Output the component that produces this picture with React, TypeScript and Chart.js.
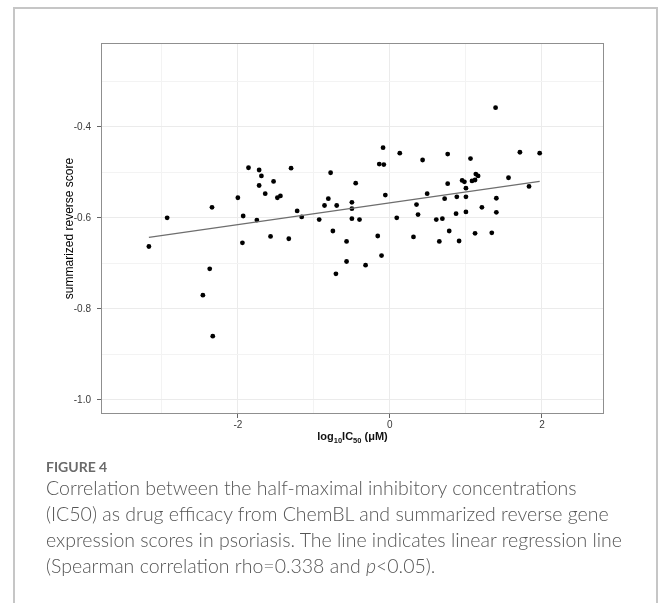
import React, { useEffect, useRef } from "react";
import { Chart, registerables } from "chart.js";

Chart.register(...registerables);

// log10 IC50 (uM)
const xValues = [
  -1.86, -1.72, -1.69, -1.3, -1.53, -1.72, -1.64, -1.44, -1.48, -2.0,
  -2.34, -1.22, -2.93, -1.93, -1.75, -1.57, -1.33, -3.17, -1.94, -2.37,
  -2.46, -2.33, -1.16, -0.78, -0.86, -0.81, -0.7, -0.93, -0.45, -0.5,
  -0.5, -0.5, -0.4, -0.75, -0.16, -0.09, -0.14, -0.08, 0.13, -0.06,
  0.09, 0.31, 0.43, 0.35, 0.37, 0.49, 0.61, 0.69, 0.76, 0.76,
  0.78, 0.72, 0.88, 0.87, 1.0, 1.0, 1.0, 0.95, 0.98, 1.06,
  1.08, 1.12, 1.13, 1.16, 1.21, 1.12, 1.34, 1.39, 1.4, 1.4,
  1.56, 1.71, 1.83, 1.97, -0.57, -0.57, -0.71, -0.32, -0.11, 0.65,
  0.91,
];
// summarized reverse score
const yValues = [
  -0.49, -0.495, -0.508, -0.491, -0.52, -0.529, -0.547, -0.552, -0.556, -0.556,
  -0.577, -0.585, -0.6, -0.596, -0.605, -0.641, -0.646, -0.663, -0.655, -0.712,
  -0.77, -0.86, -0.598, -0.501, -0.573, -0.558, -0.573, -0.604, -0.524, -0.566,
  -0.58, -0.602, -0.604, -0.629, -0.64, -0.446, -0.482, -0.483, -0.458, -0.55,
  -0.6, -0.642, -0.473, -0.571, -0.593, -0.547, -0.604, -0.602, -0.46, -0.525,
  -0.629, -0.558, -0.554, -0.591, -0.587, -0.554, -0.535, -0.518, -0.521, -0.47,
  -0.519, -0.517, -0.504, -0.508, -0.577, -0.634, -0.633, -0.358, -0.557, -0.588,
  -0.512, -0.456, -0.531, -0.458, -0.652, -0.696, -0.723, -0.704, -0.683, -0.652,
  -0.651,
];
// linear regression line end points
const regressionX = [-3.17, 1.97];
const regressionY = [-0.643, -0.52];

const xGridTicks = [-3, -2, -1, 0, 1, 2];
const xLabelTicks = [-2, 0, 2];
const yGridTicks = [-1.0, -0.9, -0.8, -0.7, -0.6, -0.5, -0.4, -0.3];
const yLabelTicks = [-1.0, -0.8, -0.6, -0.4];
const xRange = [-3.8, 2.816];
const yRange = [-1.031, -0.216];

const yTitle = "summarized reverse score";
const figureLabel = "FIGURE 4";
const captionLines = [
  "Correlation between the half-maximal inhibitory concentrations",
  "(IC50) as drug efficacy from ChemBL and summarized reverse gene",
  "expression scores in psoriasis. The line indicates linear regression line",
];

const isIn = (v: number, list: number[]) => list.some((t) => Math.abs(t - v) < 1e-6);

const FONT = "'Liberation Sans', Arial, sans-serif";

const panelPlugin = {
  id: "panelDecor",
  afterDraw(chart: any) {
    const { ctx, chartArea } = chart;
    ctx.save();
    ctx.strokeStyle = "#8f8f8f";
    ctx.lineWidth = 1;
    ctx.strokeRect(
      Math.round(chartArea.left) + 0.5,
      Math.round(chartArea.top) + 0.5,
      Math.round(chartArea.right - chartArea.left) - 1,
      Math.round(chartArea.bottom - chartArea.top) - 1
    );
    // y axis title
    const cy = (chartArea.top + chartArea.bottom) / 2;
    ctx.translate(70, cy);
    ctx.rotate(-Math.PI / 2);
    ctx.fillStyle = "#000";
    ctx.font = `12px ${FONT}`;
    ctx.textAlign = "center";
    ctx.textBaseline = "middle";
    ctx.fillText(yTitle, 0, 0);
    ctx.restore();

    // x axis title with subscripts: log10IC50 (µM)
    ctx.save();
    const parts: [string, boolean][] = [
      ["log", false],
      ["10", true],
      ["IC", false],
      ["50", true],
      [" (\u03bcM)", false],
    ];
    const big = `bold 11px ${FONT}`;
    const small = `bold 7.5px ${FONT}`;
    let total = 0;
    for (const [t, sub] of parts) {
      ctx.font = sub ? small : big;
      total += ctx.measureText(t).width;
    }
    let x = (chartArea.left + chartArea.right) / 2 - total / 2;
    const base = 440;
    ctx.fillStyle = "#111";
    ctx.textAlign = "left";
    ctx.textBaseline = "alphabetic";
    for (const [t, sub] of parts) {
      ctx.font = sub ? small : big;
      ctx.fillText(t, x, sub ? base + 2.5 : base);
      x += ctx.measureText(t).width;
    }
    ctx.restore();
  },
};

export default function App() {
  const canvasRef = useRef<HTMLCanvasElement | null>(null);

  useEffect(() => {
    const canvas = canvasRef.current;
    if (!canvas) return;
    const points = xValues.map((x, i) => ({ x, y: yValues[i] }));
    const line = regressionX.map((x, i) => ({ x, y: regressionY[i] }));
    const chart = new Chart(canvas, {
      type: "scatter",
      data: {
        datasets: [
          {
            type: "line",
            data: line,
            borderColor: "#6e6e6e",
            borderWidth: 1.3,
            pointRadius: 0,
            showLine: true,
            fill: false,
          } as any,
          {
            type: "scatter",
            data: points,
            backgroundColor: "#000",
            borderColor: "#000",
            borderWidth: 0,
            pointRadius: 2.4,
          },
        ],
      },
      options: {
        animation: false,
        responsive: false,
        devicePixelRatio: 1,
        events: [],
        layout: { padding: { left: 0, top: 43, right: 55, bottom: 0 } },
        plugins: { legend: { display: false }, tooltip: { enabled: false } },
        scales: {
          x: {
            type: "linear",
            min: xRange[0],
            max: xRange[1],
            afterBuildTicks: (s: any) => {
              s.ticks = xGridTicks.map((v) => ({ value: v }));
            },
            afterFit: (s: any) => {
              s.height = 46;
            },
            border: { display: false },
            grid: {
              color: (c: any) => (isIn(c.tick?.value, xLabelTicks) ? "#ebebeb" : "#f3f3f3"),
              lineWidth: 1,
              tickLength: 4,
              tickColor: (c: any) => (isIn(c.tick?.value, xLabelTicks) ? "#666" : "rgba(0,0,0,0)"),
            },
            ticks: {
              autoSkip: false,
              maxRotation: 0,
              padding: 1,
              color: "#3a3a3a",
              font: { family: FONT, size: 10 },
              callback: (v: any) => (isIn(Number(v), xLabelTicks) ? String(v) : ""),
            },
          },
          y: {
            type: "linear",
            min: yRange[0],
            max: yRange[1],
            afterBuildTicks: (s: any) => {
              s.ticks = yGridTicks.map((v) => ({ value: v }));
            },
            afterFit: (s: any) => {
              s.width = 101;
            },
            border: { display: false },
            grid: {
              color: (c: any) => (isIn(c.tick?.value, yLabelTicks) ? "#ebebeb" : "#f3f3f3"),
              lineWidth: 1,
              tickLength: 4,
              tickColor: (c: any) => (isIn(c.tick?.value, yLabelTicks) ? "#666" : "rgba(0,0,0,0)"),
            },
            ticks: {
              autoSkip: false,
              padding: 6,
              color: "#3a3a3a",
              font: { family: FONT, size: 10 },
              callback: (v: any) => (isIn(Number(v), yLabelTicks) ? Number(v).toFixed(1) : ""),
            },
          },
        },
      },
      plugins: [panelPlugin],
    });
    return () => chart.destroy();
  }, []);

  return (
    <div
      style={{
        position: "absolute",
        left: 0,
        top: 0,
        width: 659,
        height: 603,
        background: "#fff",
        overflow: "hidden",
      }}
    >
      <div
        style={{
          position: "absolute",
          left: 13,
          top: 7,
          width: 641,
          height: 640,
          borderLeft: "2px solid #c6c6c6",
          borderTop: "2px solid #c6c6c6",
          borderRight: "2px solid #c6c6c6",
        }}
      />
      <canvas
        ref={canvasRef}
        width={659}
        height={460}
        style={{ position: "absolute", left: 0, top: 0, width: 659, height: 460 }}
      />
      <div
        style={{
          position: "absolute",
          left: 46,
          top: 458,
          fontFamily: "Lato, 'Open Sans', sans-serif",
          fontWeight: 700,
          fontSize: 14,
          color: "#6a6a6a",
          lineHeight: "18px",
          whiteSpace: "nowrap",
        }}
      >
        {figureLabel}
      </div>
      <div
        style={{
          position: "absolute",
          left: 46,
          top: 475,
          fontFamily: "Lato, 'Open Sans', sans-serif",
          fontWeight: 300,
          fontSize: 19.5,
          color: "#555",
          lineHeight: "26px",
          whiteSpace: "nowrap",
        }}
      >
        {captionLines.map((l, i) => (
          <div key={i}>{l}</div>
        ))}
        <div>
          (Spearman correlation rho=0.338 and <i>p</i>&lt;0.05).
        </div>
      </div>
    </div>
  );
}
